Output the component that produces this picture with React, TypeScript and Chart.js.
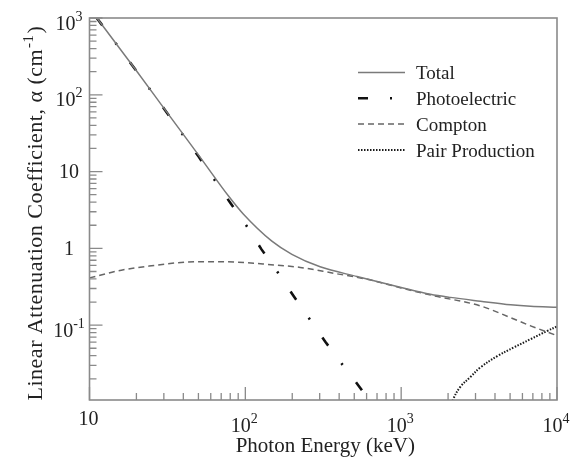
import React, { useEffect, useRef } from 'react';
import { Chart, registerables } from 'chart.js';

Chart.register(...registerables);

// ---- data (energy in keV, alpha in cm^-1) ----
const totalEnergy = [10, 20, 30, 50, 78, 97, 148, 199, 302, 520, 1000, 1540, 2070, 3230, 5040, 6770, 10000];
const totalAlpha = [1340, 206, 67, 16.5, 4.8, 2.8, 1.24, 0.836, 0.575, 0.43, 0.31, 0.253, 0.23, 0.205, 0.184, 0.176, 0.171];

const photoEnergy = [10, 20, 30, 50, 79.8, 102, 127, 162, 204, 257, 326, 417, 533, 700];
const photoAlpha = [1340, 205, 66.4, 15.8, 3.95, 1.95, 0.97, 0.483, 0.24, 0.122, 0.0607, 0.0312, 0.0163, 0.0075];

const comptonEnergy = [10, 16, 26, 37, 50, 70, 115, 137, 225, 367, 607, 1000, 1610, 3230, 5000, 6770, 10000];
const comptonAlpha = [0.413, 0.52, 0.6, 0.65, 0.67, 0.67, 0.64, 0.62, 0.565, 0.475, 0.395, 0.305, 0.242, 0.178, 0.126, 0.098, 0.073];

const pairEnergy = [2050, 2158, 2404, 2787, 3228, 4137, 5288, 6773, 8670, 10000];
const pairAlpha = [0.008, 0.0109, 0.0158, 0.0212, 0.0282, 0.0395, 0.0513, 0.0658, 0.0843, 0.096];

const seriesNames = ['Total', 'Photoelectric', 'Compton', 'Pair Production'];

// ---- axes ----
const xMin = 10;
const xMax = 10000;
const yMin = 0.0106;
const yMax = 1000;
const xTickValues = [10, 100, 1000, 10000];
const xTickBase = ['10', '10', '10', '10'];
const xTickExp = ['', '2', '3', '4'];
const yTickValues = [0.1, 1, 10, 100, 1000];
const yTickBase = ['10', '1', '10', '10', '10'];
const yTickExp = ['-1', '', '', '2', '3'];
const minorMultipliers = [2, 3, 4, 5, 6, 7, 8, 9];
const xDecades = [10, 100, 1000];
const yDecades = [0.01, 0.1, 1, 10, 100];
const xTitle = 'Photon Energy (keV)';
const yTitleMain = 'Linear Attenuation Coefficient, \u03B1 (cm';
const yTitleSup = '-1';
const yTitleEnd = ')';

const FONT = '"Liberation Serif", "Times New Roman", serif';
const TEXT = '#222';
const AXIS = '#8a8a8a';

function zip(xs: number[], ys: number[]) {
  return xs.map((x, i) => ({ x, y: ys[i] }));
}

const decorPlugin = {
  id: 'decor',
  afterDatasetsDraw(chart: any) {
    const ctx: any = chart.ctx;
    const a = chart.chartArea;
    const xs = chart.scales.x;
    const ys = chart.scales.y;
    ctx.save();
    // frame
    ctx.strokeStyle = AXIS;
    ctx.lineWidth = 1.6;
    ctx.setLineDash([]);
    ctx.strokeRect(a.left, a.top, a.right - a.left, a.bottom - a.top);

    // ticks (inward)
    ctx.lineWidth = 1.3;
    ctx.beginPath();
    xTickValues.forEach((v) => {
      const px = xs.getPixelForValue(v);
      ctx.moveTo(px, a.bottom);
      ctx.lineTo(px, a.bottom - 13);
    });
    xDecades.forEach((d) => {
      minorMultipliers.forEach((m) => {
        const px = xs.getPixelForValue(d * m);
        ctx.moveTo(px, a.bottom);
        ctx.lineTo(px, a.bottom - 7);
      });
    });
    yTickValues.forEach((v) => {
      const py = ys.getPixelForValue(v);
      ctx.moveTo(a.left, py);
      ctx.lineTo(a.left + 13, py);
    });
    yDecades.forEach((d) => {
      minorMultipliers.forEach((m) => {
        const v = d * m;
        if (v < yMin || v > yMax) return;
        const py = ys.getPixelForValue(v);
        ctx.moveTo(a.left, py);
        ctx.lineTo(a.left + 7, py);
      });
    });
    ctx.stroke();

    // tick labels
    ctx.fillStyle = TEXT;
    ctx.textBaseline = 'alphabetic';
    ctx.textAlign = 'left';
    const baseFont = `20px ${FONT}`;
    const supFont = `14px ${FONT}`;
    const measure = (base: string, exp: string) => {
      ctx.font = baseFont;
      const wb = ctx.measureText(base).width;
      ctx.font = supFont;
      const we = exp ? ctx.measureText(exp).width : 0;
      return { wb, we };
    };
    const drawLabel = (base: string, exp: string, left: number, baseline: number) => {
      const { wb } = measure(base, exp);
      ctx.font = baseFont;
      ctx.fillText(base, left, baseline);
      if (exp) {
        ctx.font = supFont;
        ctx.fillText(exp, left + wb, baseline - 9);
      }
    };
    xTickValues.forEach((v, i) => {
      const px = xs.getPixelForValue(v);
      const { wb, we } = measure(xTickBase[i], xTickExp[i]);
      const baseline = xTickExp[i] ? 432 : 424.5;
      drawLabel(xTickBase[i], xTickExp[i], px - (wb + we) / 2 - 1, baseline);
    });
    yTickValues.forEach((v, i) => {
      const py = ys.getPixelForValue(v);
      const { wb, we } = measure(yTickBase[i], yTickExp[i]);
      const baseline = py + (yTickExp[i] ? 11.5 : 6.8);
      drawLabel(yTickBase[i], yTickExp[i], 69 - (wb + we) / 2, baseline);
    });

    // axis titles
    ctx.font = `21px ${FONT}`;
    ctx.textAlign = 'center';
    ctx.fillText(xTitle, (a.left + a.right) / 2 + 2, 452);

    ctx.save();
    ctx.translate(41.5, 213);
    ctx.rotate(-Math.PI / 2);
    ctx.textAlign = 'left';
    ctx.letterSpacing = '0.5px';
    ctx.font = `22px ${FONT}`;
    const w1 = ctx.measureText(yTitleMain).width;
    const w3 = ctx.measureText(yTitleEnd).width;
    ctx.font = `15px ${FONT}`;
    const w2 = ctx.measureText(yTitleSup).width;
    let sx = -(w1 + w2 + w3 + 2) / 2;
    ctx.font = `22px ${FONT}`;
    ctx.fillText(yTitleMain, sx, 0);
    sx += w1;
    ctx.font = `15px ${FONT}`;
    ctx.fillText(yTitleSup, sx + 1, -9);
    sx += w2 + 2;
    ctx.font = `22px ${FONT}`;
    ctx.fillText(yTitleEnd, sx, 0);
    ctx.restore();

    // legend
    ctx.textAlign = 'left';
    ctx.font = `19px ${FONT}`;
    chart.data.datasets.forEach((ds: any, i: number) => {
      const y = 72.5 + i * 25.8;
      ctx.strokeStyle = ds.borderColor;
      ctx.lineWidth = ds.borderWidth;
      ctx.setLineDash(ds.borderDash || []);
      ctx.lineDashOffset = 0;
      ctx.beginPath();
      ctx.moveTo(358, y);
      ctx.lineTo(405, y);
      ctx.stroke();
      ctx.fillStyle = TEXT;
      ctx.fillText(seriesNames[i], 416, y + 6.6);
    });
    ctx.restore();
  },
};

export default function App() {
  const canvasRef = useRef<HTMLCanvasElement | null>(null);

  useEffect(() => {
    if (!canvasRef.current) return;
    const chart = new Chart(canvasRef.current, {
      type: 'line',
      data: {
        datasets: [
          {
            label: seriesNames[0],
            data: zip(totalEnergy, totalAlpha),
            borderColor: '#7a7a7a',
            borderWidth: 1.5,
            borderDash: [],
            cubicInterpolationMode: 'monotone',
            pointRadius: 0,
          },
          {
            label: seriesNames[1],
            data: zip(photoEnergy, photoAlpha),
            borderColor: '#111111',
            borderWidth: 2.6,
            borderDash: [10, 22, 2, 22],
            borderDashOffset: 44.6,
            pointRadius: 0,
          },
          {
            label: seriesNames[2],
            data: zip(comptonEnergy, comptonAlpha),
            borderColor: '#666666',
            borderWidth: 1.5,
            borderDash: [6, 4],
            cubicInterpolationMode: 'monotone',
            pointRadius: 0,
          },
          {
            label: seriesNames[3],
            data: zip(pairEnergy, pairAlpha),
            borderColor: '#1a1a1a',
            borderWidth: 2,
            borderDash: [1.5, 1.5],
            tension: 0.4,
            pointRadius: 0,
          },
        ] as any,
      },
      options: {
        animation: false,
        responsive: true,
        maintainAspectRatio: false,
        layout: { padding: { left: 89.5, top: 18, right: 14, bottom: 61 } },
        plugins: { legend: { display: false }, tooltip: { enabled: false } },
        scales: {
          x: { type: 'logarithmic', min: xMin, max: xMax, display: false },
          y: { type: 'logarithmic', min: yMin, max: yMax, display: false },
        },
      } as any,
      plugins: [decorPlugin],
    });
    return () => chart.destroy();
  }, []);

  return (
    <div style={{ position: 'fixed', left: 0, top: 0, width: 571, height: 461, background: '#fff' }}>
      <canvas ref={canvasRef} />
    </div>
  );
}
